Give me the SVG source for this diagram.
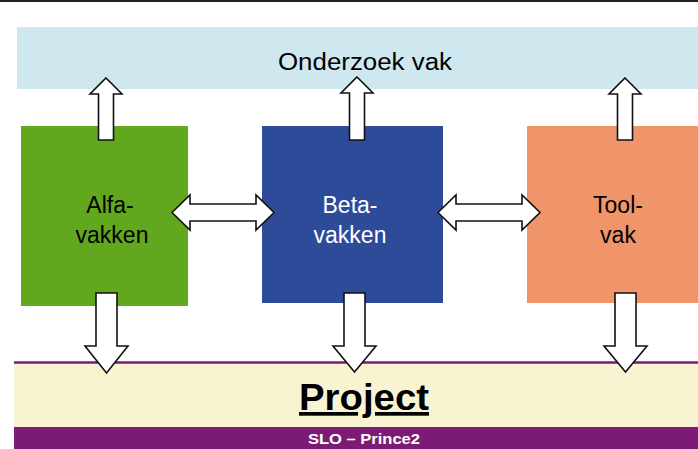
<svg xmlns="http://www.w3.org/2000/svg" width="698" height="449" viewBox="0 0 698 449">
<style>
.arrow{fill:#fff;stroke:#111;stroke-width:1.6;stroke-linejoin:miter}
.lbl{font-family:"Liberation Sans",Arial,sans-serif;font-size:23px;text-anchor:middle}
.bold{font-family:"Liberation Sans",Arial,sans-serif;font-weight:bold;text-anchor:middle}
</style>
<rect width="698" height="449" fill="#fff"/>
<line x1="0" y1="1" x2="698" y2="1" stroke="#222" stroke-width="2"/>
<g id="onderzoek">
<rect x="17" y="27" width="681" height="62" fill="#cfe8ef"/>
<text class="lbl" x="365" y="70" font-size="27" textLength="174" lengthAdjust="spacingAndGlyphs">Onderzoek vak</text>
</g>
<g id="project">
<rect x="14" y="362" width="684" height="65" fill="#f8f4d2"/>
<line x1="14" y1="362.5" x2="698" y2="362.5" stroke="#7b1b75" stroke-width="2.5"/>
<rect x="14" y="427" width="684" height="22" fill="#7b1b75"/>
<text class="bold" x="364" y="410" font-size="37" text-decoration="underline" textLength="130" lengthAdjust="spacingAndGlyphs">Project</text>
<text class="bold" x="364" y="444" font-size="15" fill="#fff" textLength="112" lengthAdjust="spacingAndGlyphs">SLO – Prince2</text>
</g>
<g id="alfa">
<rect x="21" y="126" width="167" height="180" fill="#62a81f"/>
<text class="lbl" x="110" y="213">Alfa-</text>
<text class="lbl" x="112" y="243">vakken</text>
</g>
<g id="beta">
<rect x="262" y="126" width="181" height="177" fill="#2e4b9a"/>
<text class="lbl" x="350" y="213" fill="#fff">Beta-</text>
<text class="lbl" x="350" y="243" fill="#fff">vakken</text>
</g>
<g id="tool">
<rect x="527" y="126" width="171" height="177" fill="#f0956a"/>
<text class="lbl" x="618" y="213">Tool-</text>
<text class="lbl" x="618" y="243">vak</text>
</g>
<g id="connectors">
<polygon class="arrow" points="106,78 122,94 113.5,94 113.5,140 98.5,140 98.5,94 90,94"/>
<polygon class="arrow" points="357,77 373,93 364.5,93 364.5,140 349.5,140 349.5,93 341,93"/>
<polygon class="arrow" points="625,78 641,94 632.5,94 632.5,140 617.5,140 617.5,94 609,94"/>
<polygon class="arrow" points="96,293 117,293 117,346 128,346 106.5,373 85,346 96,346"/>
<polygon class="arrow" points="344,293 365,293 365,346 376,346 354.5,372 333,346 344,346"/>
<polygon class="arrow" points="615,293 636,293 636,346 647,346 625.5,372 604,346 615,346"/>
<polygon class="arrow" points="172,212.5 190,195 190,204 256,204 256,195 274,212.5 256,230 256,221 190,221 190,230"/>
<polygon class="arrow" points="438,212.5 456,195 456,204 522,204 522,195 540,212.5 522,230 522,221 456,221 456,230"/>
</g>
</svg>
